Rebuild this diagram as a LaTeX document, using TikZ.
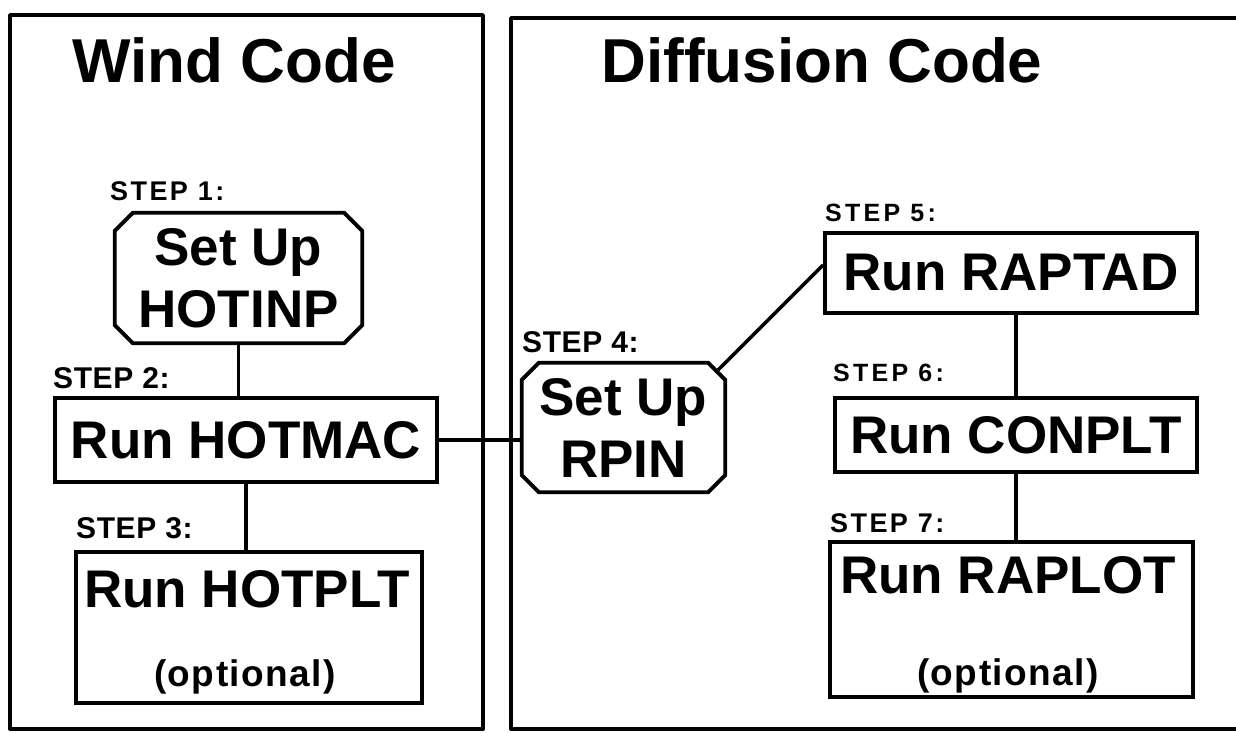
\documentclass[tikz,border=0pt]{standalone}
\usepackage{fontspec}
\setmainfont{Liberation Sans}
\newfontfamily\stepfamily[LetterSpace=4]{Liberation Sans}
\newcommand\bxfont{\fontsize{53}{62}\selectfont\bfseries}
\newcommand\ttlfont{\fontsize{62}{70}\selectfont\bfseries}
\newcommand\optfont{\fontsize{37}{42}\selectfont\bfseries\addfontfeature{LetterSpace=4}}
\newcommand\stepA{\stepfamily\bfseries\fontsize{27}{30}\selectfont\addfontfeature{LetterSpace=9}}
\newcommand\stepB{\stepfamily\bfseries\fontsize{30}{32}\selectfont\addfontfeature{LetterSpace=2}}
\newcommand\stepC{\stepfamily\bfseries\fontsize{25}{28}\selectfont\addfontfeature{LetterSpace=13}}
\newcommand\octagon[2]{%
  \draw[boxline] ([xshift=#2]#1.north west) -- ([xshift=-#2]#1.north east)
    -- ([yshift=-#2]#1.north east) -- ([yshift=#2]#1.south east)
    -- ([xshift=-#2]#1.south east) -- ([xshift=#2]#1.south west)
    -- ([yshift=#2]#1.south west) -- ([yshift=-#2]#1.north west) -- cycle;}
\begin{document}
\begin{tikzpicture}[x=1pt,y=-1pt,
  frame/.style={draw, line width=3.8pt, line join=round},
  boxline/.style={draw, line width=3.8pt, line join=miter},
  box/.style={draw, line width=3.8pt, rectangle, inner sep=0pt, font=\bxfont},
  oct/.style={rectangle, inner sep=0pt, font=\bxfont, align=center},
  conn/.style={line width=3.5pt},
  steplbl/.style={anchor=base west, inner sep=0pt},
  title/.style={anchor=base, inner sep=0pt, font=\ttlfont},
  inner/.style={anchor=base, inner sep=0pt}]
\useasboundingbox (0,0) rectangle (1236,732);
\fill[white] (0,0) rectangle (1236,732);
% frames
\draw[frame] (10,15) rectangle (483,729);
\draw[frame] (511,18) rectangle (1250,729);
% titles
\node[title] (t1) at (234,82) {Wind Code};
\node[title] (t2) at (822,82) {Diffusion Code};
% step labels
\node[steplbl] (l1) at (110,200) {\stepA STEP 1:};
\node[steplbl] (l2) at (53,388) {\stepB STEP 2:};
\node[steplbl] (l3) at (76,538) {\stepB STEP 3:};
\node[steplbl] (l4) at (522,352) {\stepB STEP 4:};
\node[steplbl] (l5) at (825,221) {\stepC STEP 5:};
\node[steplbl] (l6) at (833,381) {\stepC STEP 6:};
\node[steplbl] (l7) at (830,532) {\stepA STEP 7:};
% wind code boxes
\node[oct, minimum width=247pt, minimum height=130pt] (s1) at (238.5,278) {Set Up\\HOTINP};
\octagon{s1}{18pt}
\node[box, minimum width=382pt, minimum height=84pt] (s2) at (246,440) {Run HOTMAC};
\node[box, minimum width=346pt, minimum height=151pt] (s3) at (249,627.5) {};
\node[inner, font=\bxfont] (s3a) at (247,607) {Run HOTPLT};
\node[inner, font=\optfont] (s3b) at (245,686) {(optional)};
% step 4
\node[oct, minimum width=203pt, minimum height=129pt] (s4) at (623.5,427.5) {Set Up\\RPIN};
\octagon{s4}{17pt}
% diffusion code boxes
\node[box, minimum width=372pt, minimum height=80pt] (s5) at (1011,273) {Run RAPTAD};
\node[box, minimum width=362pt, minimum height=74pt] (s6) at (1016,435) {Run CONPLT};
\node[box, minimum width=363pt, minimum height=155pt] (s7) at (1011.5,619.5) {};
\node[inner, font=\bxfont] (s7a) at (1008,593) {Run RAPLOT};
\node[inner, font=\optfont] (s7b) at (1008,685) {(optional)};
% connectors
\draw[conn] (s1.south) -- (s1.south |- s2.north);
\draw[conn] (s2.south) -- (s2.south |- s3.north);
\draw[conn] (s2.east) -- (s2.east -| s4.west);
\coordinate (c4) at ([xshift=-8.5pt,yshift=-8.5pt]s4.north east);
\draw[conn] (c4) -- ([yshift=8pt]s5.west);
\draw[conn] (s6.north) -- (s6.north |- s5.south);
\draw[conn] (s6.south) -- (s6.south |- s7.north);
\end{tikzpicture}
\end{document}
